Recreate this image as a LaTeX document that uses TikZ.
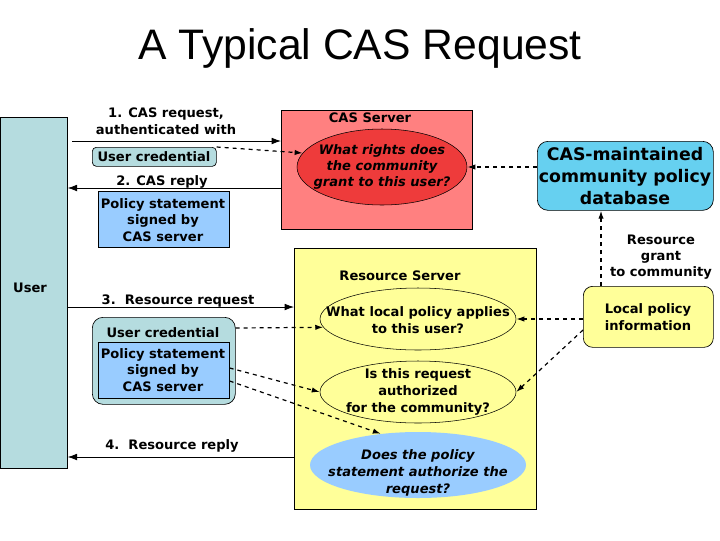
\documentclass[tikz,border=0pt]{standalone}
\usepackage{fontspec}
\setmainfont{DejaVu Sans}
\newfontfamily\titlefont{Liberation Sans}
\usetikzlibrary{arrows.meta,shapes.geometric}
\definecolor{usr}{HTML}{B5DCDF}
\definecolor{pol}{HTML}{99CCFF}
\definecolor{cas}{HTML}{FF8080}
\definecolor{casel}{HTML}{EE3B3B}
\definecolor{db}{HTML}{66D0F0}
\definecolor{yel}{HTML}{FFFF99}
\tikzset{
 txt/.style={font=\bfseries\fontsize{9.8}{10.5}\selectfont,align=center,inner sep=0pt},
 solidarr/.style={draw,line width=0.6pt,-{Latex[length=7pt,width=5pt]}},
 dasharr/.style={draw,dashed,line width=0.9pt,-{Latex[length=6pt,width=4pt]}},
 box/.style={draw,line width=0.5pt,inner sep=0pt},
 ell/.style={ellipse,inner sep=0pt},
}
\begin{document}
\begin{tikzpicture}[x=0.75pt,y=-0.75pt]
\useasboundingbox (0,0) rectangle (720,540);
\fill[white] (0,0) rectangle (720,540);
\node[font=\titlefont\fontsize{32}{36}\selectfont] (title) at (360,48) {A Typical CAS Request};
% user
\node[box,fill=usr,minimum width=67*0.75pt,minimum height=351*0.75pt,anchor=north west] (user) at (0,117) {};
\node[txt] (ulab) at (30,288) {User};
% CAS server
\node[box,fill=cas,minimum width=191*0.75pt,minimum height=119*0.75pt,anchor=north west] (cas) at (281,110) {};
\node[txt] (caslab) at (370,118) {CAS Server};
\node[ell,draw,line width=0.4pt,fill=casel,minimum width=170*0.75pt,minimum height=76*0.75pt] (q1) at (382,167) {};
\node[txt,font=\bfseries\itshape\fontsize{9.8}{12}\selectfont] (q1t) at (382,167) {What rights does\\the community\\grant to this user?};
% DB
\node[box,rounded corners=8pt,fill=db,minimum width=176*0.75pt,minimum height=69*0.75pt,anchor=north west] (db) at (537,141) {};
\node[txt,font=\bfseries\fontsize{13}{16.5}\selectfont] (dbt) at (625,176) {CAS-maintained\\community policy\\database};
% resource server
\node[box,fill=yel,minimum width=242*0.75pt,minimum height=261*0.75pt,anchor=north west] (rs) at (294,248) {};
\node[txt] (rslab) at (400,276) {Resource Server};
\node[ell,draw,line width=0.4pt,fill=yel,minimum width=196*0.75pt,minimum height=62*0.75pt] (e1) at (418,319) {};
\node[txt,font=\bfseries\fontsize{9.8}{12.5}\selectfont] (e1t) at (418,320) {What local policy applies\\to this user?};
\node[ell,draw,line width=0.4pt,fill=yel,minimum width=196*0.75pt,minimum height=62*0.75pt] (e2) at (418,392) {};
\node[txt,font=\bfseries\fontsize{9.8}{12.5}\selectfont] (e2t) at (418,392) {Is this request\\authorized\\for the community?};
\node[ell,fill=pol,minimum width=216*0.75pt,minimum height=66*0.75pt] (e3) at (418,465) {};
\node[txt,font=\bfseries\itshape\fontsize{9.8}{12.8}\selectfont] (e3t) at (418,473) {Does the policy\\statement authorize the\\request?};
% local policy
\node[box,rounded corners=7pt,fill=yel,minimum width=130*0.75pt,minimum height=61*0.75pt,anchor=north west] (lp) at (583,286) {};
\node[txt,font=\bfseries\fontsize{9.8}{12.5}\selectfont] (lpt) at (648,317) {Local policy\\information};
\node[txt,font=\bfseries\fontsize{9.8}{12}\selectfont] (rg) at (661,257) {Resource\\grant\\to community};
% message boxes
\node[box,rounded corners=3pt,fill=usr,minimum width=124*0.75pt,minimum height=19*0.75pt,anchor=north west] (uc1) at (92,147) {};
\node[txt] (uc1t) at (154,157) {User credential};
\node[box,fill=pol,minimum width=131*0.75pt,minimum height=56*0.75pt,anchor=north west] (ps1) at (98,191) {};
\node[txt,font=\bfseries\fontsize{9.8}{12.5}\selectfont] (ps1t) at (163,220) {Policy statement\\signed by\\CAS server};
\node[box,rounded corners=8pt,fill=usr,minimum width=143*0.75pt,minimum height=87*0.75pt,anchor=north west] (grp) at (92,317) {};
\node[txt] (uc2t) at (163,333) {User credential};
\node[box,fill=pol,minimum width=131*0.75pt,minimum height=56*0.75pt,anchor=north west] (ps2) at (98,342) {};
\node[txt,font=\bfseries\fontsize{9.8}{12.5}\selectfont] (ps2t) at (163,370) {Policy statement\\signed by\\CAS server};
% labels
\node[txt,font=\bfseries\fontsize{9.8}{12.5}\selectfont] (l1) at (166,121) {1. CAS request,\\authenticated with};
\node[txt] (l2) at (162,182) {2. CAS reply};
\node[txt] (l3) at (178,301) {3.\ \ Resource request};
\node[txt] (l4) at (172,446) {4.\ \ Resource reply};
% solid arrows
\coordinate (a1s) at (72,141);
\draw[solidarr] (a1s) -- (a1s -| cas.west);
\coordinate (a2s) at (cas.west |- 0,188);
\draw[solidarr] (a2s) -- (a2s -| user.east);
\coordinate (a3s) at (user.east |- 0,307);
\draw[solidarr] (a3s) -- (a3s -| rs.west);
\coordinate (a4s) at (rs.west |- 0,457);
\draw[solidarr] (a4s) -- (a4s -| user.east);
% dashed arrows
\draw[dasharr] (uc1.north east) -- (q1.170);
\draw[dasharr] (db.west |- q1.east) -- (q1.east);
\draw[dasharr] (grp.east |- 0,328) -- (e1.185);
\draw[dasharr] (ps2.east |- 0,368) -- (e2.west);
\draw[dasharr] (ps2.east |- 0,381) -- (e3.140);
\draw[dasharr] (lp.west |- e1.east) -- (e1.east);
\draw[dasharr] (lp.west |- 0,330) -- (e2.east);
\draw[dasharr] (lp.north -| 601,0) -- (db.south -| 601,0);
\end{tikzpicture}
\end{document}
